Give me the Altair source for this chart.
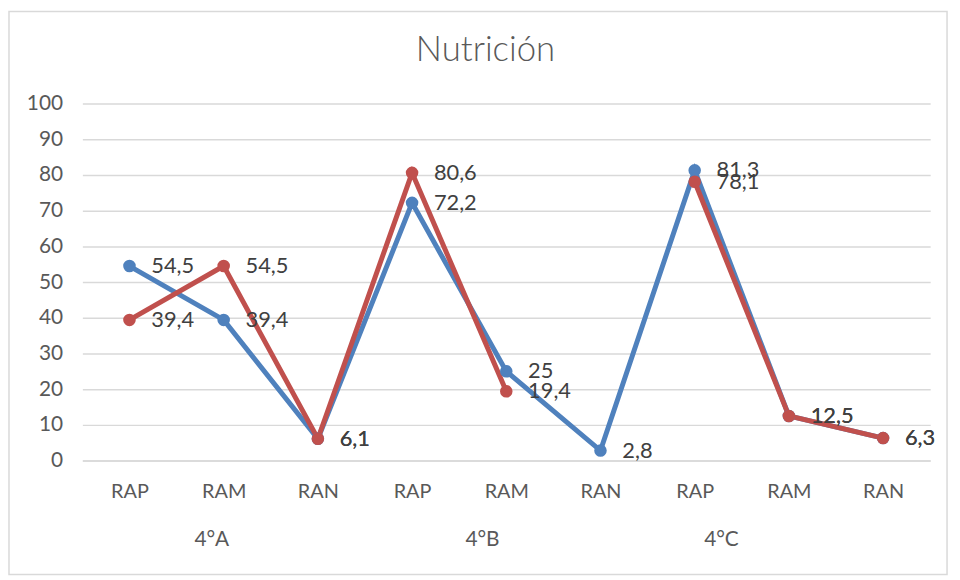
import altair as alt
import pandas as pd

# ---- data ----
groups = ["4°A", "4°A", "4°A", "4°B", "4°B", "4°B", "4°C", "4°C", "4°C"]
levels = ["RAP", "RAM", "RAN", "RAP", "RAM", "RAN", "RAP", "RAM", "RAN"]
series_names = ["Serie 1", "Serie 2"]
blue_values = [54.5, 39.4, 6.1, 72.2, 25, 2.8, 81.3, 12.5, 6.3]
red_values = [39.4, 54.5, 6.1, 80.6, 19.4, None, 78.1, 12.5, 6.3]
group_names = ["4°A", "4°B", "4°C"]
y_ticks = [0, 10, 20, 30, 40, 50, 60, 70, 80, 90, 100]

colors = ["#4F81BD", "#C0504D"]
FONT = "Lato"
W, H = 855, 360
group_dx = [-12, -24, -68]  # horizontal nudge of each group label (style)

keys = [f"{g}|{l}" for g, l in zip(groups, levels)]

rows = []
for name, vals in zip(series_names, [blue_values, red_values]):
    seg = 0
    for k, v in zip(keys, vals):
        if v is None:
            seg += 1
            continue
        rows.append({
            "key": k,
            "serie": name,
            "seg": f"{name}-{seg}",
            "value": v,
            "label": f"{v:g}".replace(".", ","),
        })
df = pd.DataFrame(rows)

grp_df = pd.DataFrame({
    "key": [f"{g}|RAM" for g in group_names],
    "group": group_names,
})

x_enc = alt.X(
    "key:N",
    sort=keys,
    scale=alt.Scale(domain=keys, padding=0.5),
    axis=alt.Axis(
        title=None,
        labelExpr="split(datum.value, '|')[1]",
        labelAngle=0,
        ticks=False,
        domainColor="#d9d9d9",
        domainWidth=1.5,
        labelFont=FONT,
        labelFontSize=20,
        labelColor="#595959",
        labelPadding=21,
        grid=False,
    ),
)
y_enc = alt.Y(
    "value:Q",
    scale=alt.Scale(domain=[0, 100], nice=False),
    axis=alt.Axis(
        title=None,
        values=y_ticks,
        domain=False,
        ticks=False,
        gridColor="#d9d9d9",
        gridWidth=1.5,
        labelFont=FONT,
        labelFontSize=21,
        labelColor="#595959",
        labelPadding=20,
    ),
)
color_enc = alt.Color(
    "serie:N",
    scale=alt.Scale(domain=series_names, range=colors),
    legend=None,
)

base = alt.Chart(df)

border = alt.Chart(pd.DataFrame({"a": [0]})).mark_rect(
    fill="transparent", stroke="#d9d9d9", strokeWidth=1.5
).encode(
    x=alt.value(-74), x2=alt.value(872), y=alt.value(-93), y2=alt.value(475)
)

lines = base.mark_line(strokeWidth=5).encode(
    x=x_enc, y=y_enc, color=color_enc, detail="seg:N"
)
points = base.mark_circle(size=160, opacity=1).encode(
    x=x_enc, y=y_enc, color=color_enc
)
labels = base.mark_text(
    align="left", baseline="middle", dx=22, font=FONT, fontSize=22, color="#404040"
).encode(x=x_enc, y=y_enc, text="label:N")

group_layers = []
for i, g in enumerate(group_names):
    group_layers.append(
        alt.Chart(grp_df[grp_df["group"] == g]).mark_text(
            align="center", baseline="middle", font=FONT, fontSize=21,
            color="#595959", dx=group_dx[i],
        ).encode(x=alt.X("key:N", sort=keys), y=alt.value(440), text="group:N")
    )

chart = alt.layer(border, lines, points, labels, *group_layers).properties(
    width=W,
    height=H,
    title=alt.TitleParams(
        "Nutrición",
        font=FONT,
        fontSize=35,
        fontWeight=300,
        color="#595959",
        anchor="middle",
        dx=-21,
        offset=-58,
    ),
    autosize=alt.AutoSizeParams(type="none"),
    padding={"left": 75, "top": 94, "right": 22, "bottom": 116},
).configure_view(stroke=None)

chart.save("out.html", embed_options={"renderer": "svg", "actions": False})
